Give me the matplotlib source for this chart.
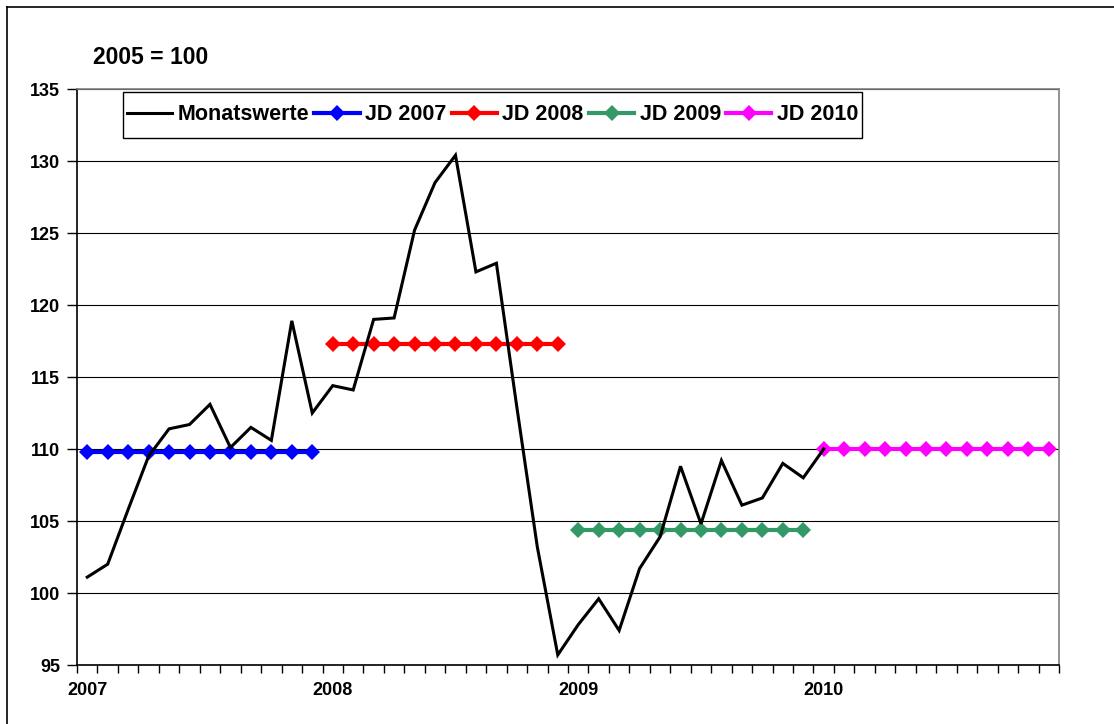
import matplotlib
matplotlib.use("Agg")
import matplotlib.pyplot as plt
from matplotlib.lines import Line2D
from matplotlib.patches import Rectangle
import numpy as np

plt.rcParams['font.family'] = ['Liberation Sans', 'DejaVu Sans']
plt.rcParams['font.weight'] = 'bold'

# Monthly index values (2005 = 100), Jan 2007 .. Jan 2010
monthly = [101.1, 102.0, 105.8, 109.5, 111.4, 111.7, 113.1, 110.1, 111.5, 110.6, 118.9, 112.5,
           114.4, 114.1, 119.0, 119.1, 125.2, 128.5, 130.4, 122.3, 122.9, 112.9, 103.2, 95.7,
           97.8, 99.6, 97.4, 101.7, 103.9, 108.8, 104.8, 109.2, 106.1, 106.6, 109.0, 108.0,
           110.0]

# Annual averages (Jahresdurchschnitt)
jd_years = [2007, 2008, 2009, 2010]
jd_values = [109.8, 117.3, 104.4, 110.0]
jd_colors = ['#0000FF', '#FF0000', '#339966', '#FF00FF']

year_labels = ['2007', '2008', '2009', '2010']
n_months = 48

W, H = 1114, 724
fig = plt.figure(figsize=(W / 100, H / 100), dpi=100)
ax = fig.add_axes([77 / W, 1 - 665 / H, (1059 - 77) / W, (665 - 89) / H])

# Monthly series
ax.plot(np.arange(len(monthly)), monthly, color='black', lw=2.2,
        solid_joinstyle='miter', label='Monatswerte', zorder=4)

# Annual average lines: one marker per month of the year
for k, (yr, val, col) in enumerate(zip(jd_years, jd_values, jd_colors)):
    x = np.arange(12 * k, 12 * k + 12)
    ax.plot(x, [val] * 12, color=col, lw=3.0, marker='D', markersize=8.5,
            markeredgewidth=0, label=f'JD {yr}', zorder=3)

ax.set_xlim(-0.5, n_months - 0.5)
ax.set_ylim(95, 135)

# y axis
ax.set_yticks(np.arange(95, 136, 5))
ax.yaxis.grid(True, color='black', lw=0.8)
ax.set_axisbelow(True)
ax.tick_params(axis='y', direction='out', length=7, width=1, pad=5,
               labelsize=13)

# x axis: tick marks between months, year labels at January
ax.set_xticks(np.arange(-0.5, n_months, 1))
ax.set_xticklabels([])
ax.set_xticks([0, 12, 24, 36], minor=True)
ax.set_xticklabels(year_labels, minor=True)
ax.tick_params(axis='x', which='major', direction='out', length=6, width=1)
ax.tick_params(axis='x', which='minor', length=0, pad=12, labelsize=13)
for lbl in ax.get_xticklabels(minor=True) + ax.get_yticklabels():
    lbl.set_fontweight('bold')

for side in ('left', 'bottom'):
    ax.spines[side].set_color('black')
    ax.spines[side].set_linewidth(1.2)
for side in ('top', 'right'):
    ax.spines[side].set_color('#808080')
    ax.spines[side].set_linewidth(1.2)

# Legend box (frame drawn separately), entries centred inside it
bx0, bx1, by0, by1 = 123, 862, 92, 138
ax.add_patch(Rectangle((bx0 / W, 1 - by1 / H), (bx1 - bx0) / W, (by1 - by0) / H,
                       transform=fig.transFigure, facecolor='white',
                       edgecolor='black', lw=1.0, zorder=6, clip_on=False))
leg = ax.legend(loc='center', bbox_to_anchor=((bx0 + bx1) / 2 / W, 1 - (by0 + by1) / 2 / H),
                bbox_transform=fig.transFigure,
                ncol=5, fontsize=15.5, handlelength=2.1, handletextpad=0.25,
                columnspacing=0.25, borderpad=0.0, borderaxespad=0,
                frameon=False, markerscale=1.0)
leg.set_zorder(7)
for t in leg.get_texts():
    t.set_fontweight('bold')

fig.text(93 / W, 1 - 57 / H, '2005 = 100', fontsize=16.5, fontweight='bold',
         ha='left', va='center')

# Chart area border (top and left edges)
fig.add_artist(Line2D([7 / W, 1.0], [1 - 7 / H, 1 - 7 / H], color='black', lw=1.2,
                      transform=fig.transFigure))
fig.add_artist(Line2D([7 / W, 7 / W], [0, 1 - 7 / H], color='black', lw=1.2,
                      transform=fig.transFigure))

fig.savefig('out.png', dpi=100)
